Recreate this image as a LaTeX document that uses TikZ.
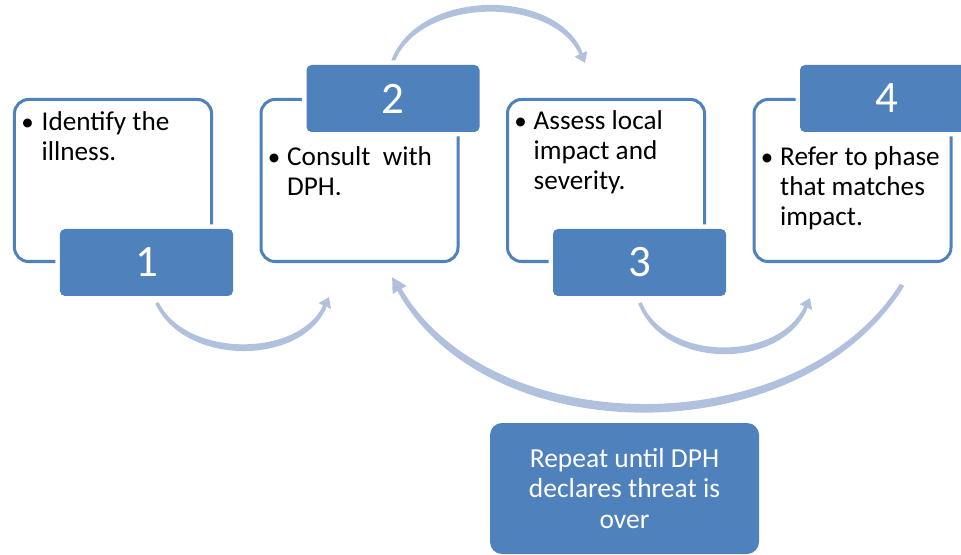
\documentclass[tikz,border=0pt]{standalone}
\usepackage{fontspec}
\setmainfont{Carlito}
\usetikzlibrary{arrows.meta}
\definecolor{boxblue}{RGB}{79,129,189}
\definecolor{arrowblue}{RGB}{176,193,221}
\newcommand\rowsl[1]{\begin{tabular}[t]{@{}l@{}}#1\end{tabular}}
\begin{document}
\begin{tikzpicture}[x=1bp,y=-1bp,
  outbox/.style={draw=boxblue, line width=3bp, rounded corners=14bp, fill=white,
    minimum width=197bp, minimum height=162bp, inner sep=0},
  numbox/.style={fill=boxblue, rounded corners=5bp, preaction={draw=white, line width=9bp},
    minimum width=173bp, minimum height=67bp, inner sep=0, text=white,
    font=\fontsize{45bp}{50bp}\selectfont},
  bodytext/.style={anchor=base west, inner sep=0, text=black,
    font=\fontsize{27.2bp}{30bp}\selectfont},
  bulletmark/.style={anchor=base, inner sep=0, text=black,
    font=\fontsize{25bp}{30bp}\selectfont},
  arr/.style={draw=arrowblue, line width=3.5bp, -{Triangle[width=13bp,length=10bp]}},
  arraux/.style={draw=arrowblue, line width=3.5bp, shorten >=11bp},
  bigarr/.style={draw=arrowblue, line width=4.5bp, -{Triangle[width=15bp,length=15bp]}},
  bigaux/.style={draw=arrowblue, line width=4.5bp, shorten >=17bp},
  repbox/.style={fill=boxblue, rounded corners=12bp, minimum width=269bp, minimum height=131bp,
    inner sep=0, text=white, align=center, font=\fontsize{27.5bp}{30.5bp}\selectfont}
]
\useasboundingbox (0,0) rectangle (961,555);

% arrows (behind boxes)
\coordinate (a1s) at (157,303);
\coordinate (a1e) at (329,297);
\draw[arraux] (a1s) .. controls (185,364) and (300,364) .. (a1e);
\draw[arr] (a1s) .. controls (185,360) and (300,360) .. (a1e);

\coordinate (a2s) at (393,61);
\coordinate (a2e) at (585,63);
\draw[arraux] (a2s) .. controls (420,-10) and (555,-10) .. (a2e);
\draw[arr] (a2s) .. controls (420,-6) and (555,-6) .. (a2e);

\coordinate (a3s) at (640,303);
\coordinate (a3e) at (810,298);
\draw[arraux] (a3s) .. controls (665,368) and (780,368) .. (a3e);
\draw[arr] (a3s) .. controls (665,364) and (780,364) .. (a3e);

\coordinate (a4s) at (902,285);
\coordinate (a4e) at (392,277);
\draw[bigaux] (a4s) .. controls (800,451) and (491,451) .. (a4e);
\draw[bigarr] (a4s) .. controls (800,446) and (491,446) .. (a4e);

% outlined boxes
\node[outbox] (b1) at (113,180.5) {};
\node[outbox] (b2) at (359.5,180.5) {};
\node[outbox] (b3) at (606,180.5) {};
\node[outbox] (b4) at (852.5,180.5) {};

% number boxes
\node[numbox] (n1) at (146.5,262.5) {1};
\node[numbox] (n2) at (393,98.5) {2};
\node[numbox] (n3) at (639.5,262.5) {3};
\node[numbox] (n4) at (886.5,98.5) {4};

% texts
\node[bulletmark] (p1) at (27.5,131) {\textbullet};
\node[bodytext] (t1) at (41.5,131) {\rowsl{Identify the\\illness.}};
\node[bulletmark] (p2) at (274,166) {\textbullet};
\node[bodytext] (t2) at (287,166) {\rowsl{Consult\ \ with\\DPH.}};
\node[bulletmark] (p3) at (520.5,130) {\textbullet};
\node[bodytext] (t3) at (533.5,130) {\rowsl{Assess local\\impact and\\severity.}};
\node[bulletmark] (p4) at (767,166) {\textbullet};
\node[bodytext] (t4) at (780,166) {\rowsl{Refer to phase\\that matches\\impact.}};

% repeat box
\node[repbox] (rep) at (624.5,488.5) {Repeat until DPH\\declares threat is\\over};
\end{tikzpicture}
\end{document}
